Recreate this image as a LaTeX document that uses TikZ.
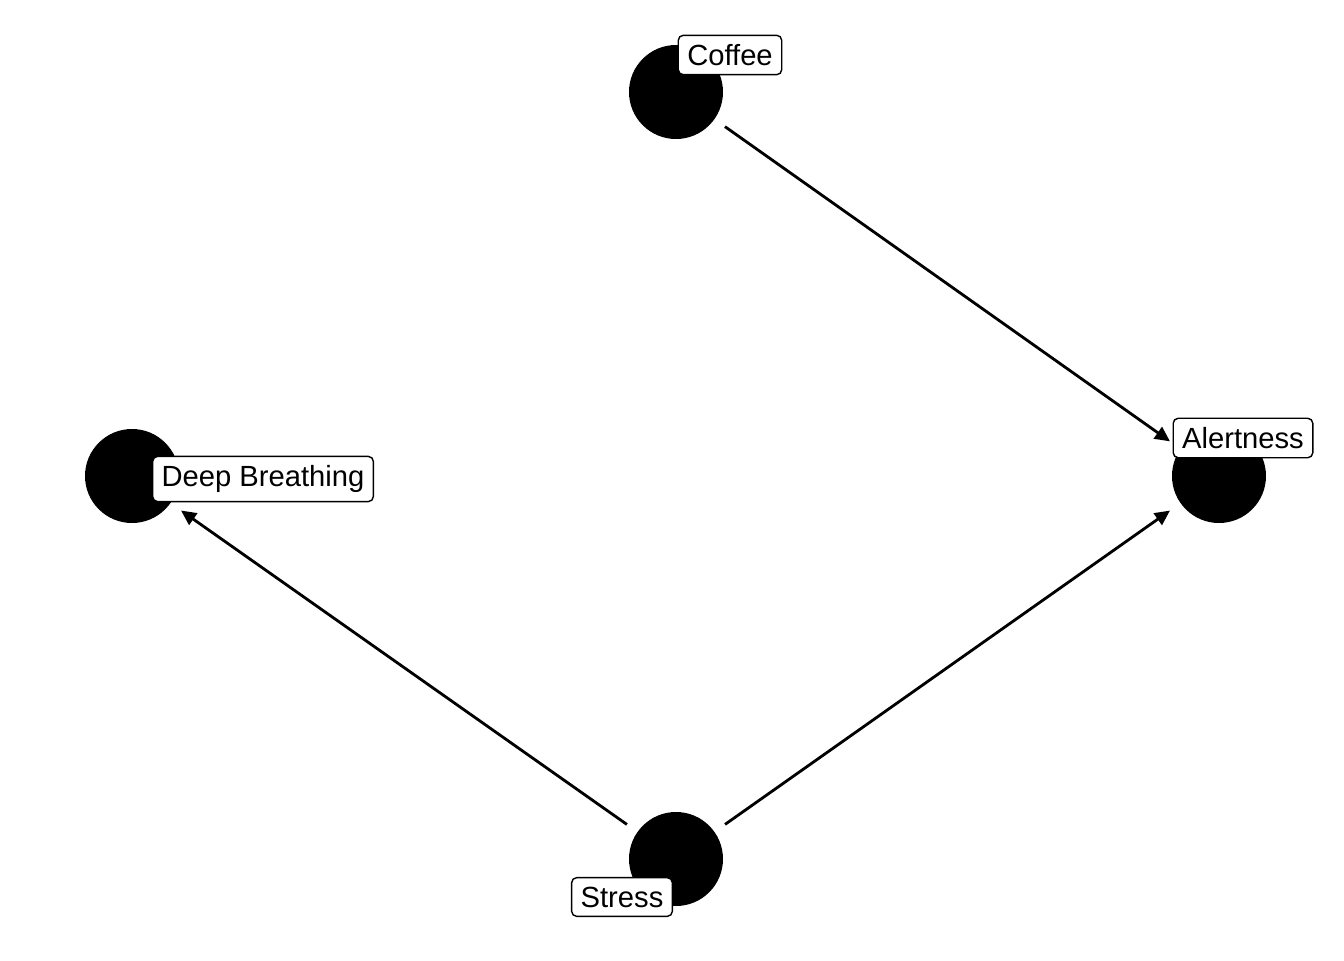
\documentclass[tikz,border=0pt]{standalone}
\usepackage{fontspec}
\setmainfont{Liberation Sans}
\usetikzlibrary{arrows.meta}
\definecolor{dotcol}{RGB}{0,0,0}
\definecolor{edgecol}{RGB}{0,0,0}
\definecolor{boxcol}{RGB}{255,255,255}

\begin{document}
\begin{tikzpicture}[
    >={Triangle[length=0.15cm, width=0.14cm]},
    dot/.style={circle, fill=dotcol, minimum size=0.94cm, inner sep=0pt, outer sep=0.13cm},
    lbl/.style={draw=edgecol, fill=boxcol, rounded corners=0.05cm, line width=0.4pt,
      inner sep=0.09cm, minimum height=0.38cm, font=\fontsize{8.3}{10}\selectfont},
    edge/.style={edgecol, line width=0.8pt, ->}
  ]
  \useasboundingbox (0,0) rectangle (13.44,9.6);

  % --- variables -------------------------------------------------------
  \node[dot] (coffee) at (6.76,8.68) {};
  \node[dot] (alert)  at (12.19,4.84) {};
  \node[dot] (breath) at (1.32,4.84) {};
  \node[dot] (stress) at (6.76,1.01) {};

  % --- causal arrows ---------------------------------------------------
  \draw[edge] (coffee) -- (alert);
  \draw[edge] (stress) -- (alert);
  \draw[edge] (stress) -- (breath);

  % --- labels ----------------------------------------------------------
  \node[lbl] (coffeelbl) at (7.30,9.05) {Coffee};
  \node[lbl] (alertlbl)  at (12.43,5.22) {Alertness};
  \node[lbl] (breathlbl) at (2.63,4.81) {Deep Breathing};
  \node[lbl] (stresslbl) at (6.22,0.63) {Stress};

\end{tikzpicture}
\end{document}
